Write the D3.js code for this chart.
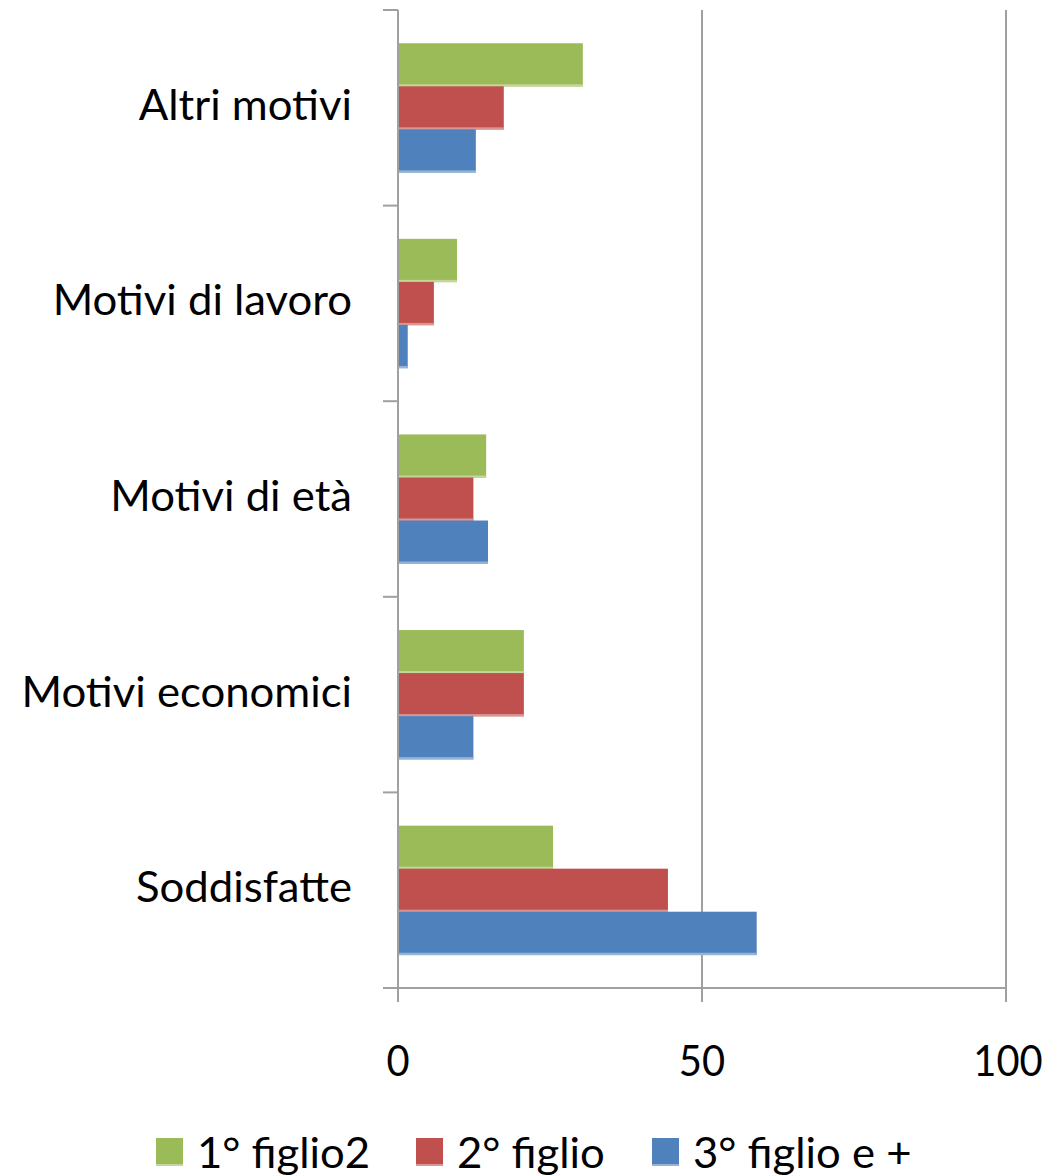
<!DOCTYPE html>
<html>
<head>
<meta charset="utf-8">
<script src="https://cdn.jsdelivr.net/npm/d3@7"></script>
<style>
  html, body { margin: 0; padding: 0; background: #fff; }
  svg { display: block; }
  text { font-family: Lato, "Open Sans", sans-serif; fill: #000; }
</style>
</head>
<body>
<svg id="chart" width="1054" height="1176"></svg>
<script>
// ---- data ----
const categories = ["Altri motivi", "Motivi di lavoro", "Motivi di età", "Motivi economici", "Soddisfatte"];
const seriesNames = ["1° figlio2", "2° figlio", "3° figlio e +"];
const seriesColors = ["#9BBB59", "#C0504D", "#4F81BD"];
const seriesEdge = ["#C3D69B", "#D99694", "#95B3D7"];
const firstChild = [30.4, 9.7, 14.5, 20.7, 25.5];
const secondChild = [17.4, 5.9, 12.4, 20.7, 44.4];
const thirdChild = [12.8, 1.6, 14.8, 12.4, 59.0];
const xTicks = [0, 50, 100];

const values = [firstChild, secondChild, thirdChild];

// ---- layout ----
const svg = d3.select("#chart");
const x = d3.scaleLinear().domain([0, 100]).range([398, 1006]);
const y0 = d3.scaleBand().domain(categories).range([10, 988]).padding(0);
const step = y0.bandwidth();
const y1 = d3.scaleBand().domain(seriesNames).range([step * 0.17, step * 0.83]).padding(0);
const axisColor = "#A0A0A0";
const labelScaleX = 1.04;
const tickScaleX = 0.95;

// gridlines
svg.append("g").selectAll("line").data(xTicks.filter(d => d > 0)).join("line")
  .attr("x1", d => x(d)).attr("x2", d => x(d))
  .attr("y1", 10).attr("y2", 988)
  .attr("stroke", axisColor).attr("stroke-width", 2);

// bars
const groups = svg.append("g").selectAll("g").data(categories).join("g")
  .attr("transform", c => `translate(0,${y0(c)})`);
groups.each(function(c, ci) {
  const g = d3.select(this);
  seriesNames.forEach((s, si) => {
    const v = values[si][ci];
    const yy = y1(s), h = y1.bandwidth();
    g.append("rect").attr("x", x(0)).attr("y", yy)
      .attr("width", x(v) - x(0)).attr("height", h)
      .attr("fill", seriesColors[si]);
    g.append("rect").attr("x", x(0)).attr("y", yy + h - 2)
      .attr("width", x(v) - x(0)).attr("height", 2.5)
      .attr("fill", seriesEdge[si]);
  });
});

// y axis line + ticks
svg.append("line").attr("x1", x(0)).attr("x2", x(0)).attr("y1", 10).attr("y2", 1002)
  .attr("stroke", axisColor).attr("stroke-width", 2);
const boundaries = categories.map(c => y0(c)).concat([y0(categories[categories.length - 1]) + step]);
svg.append("g").selectAll("line").data(boundaries).join("line")
  .attr("x1", 383).attr("x2", x(0)).attr("y1", d => d).attr("y2", d => d)
  .attr("stroke", axisColor).attr("stroke-width", 2);

// x axis line + ticks
svg.append("line").attr("x1", 383).attr("x2", x(100)).attr("y1", 988).attr("y2", 988)
  .attr("stroke", axisColor).attr("stroke-width", 2);
svg.append("g").selectAll("line").data(xTicks).join("line")
  .attr("x1", d => x(d)).attr("x2", d => x(d)).attr("y1", 988).attr("y2", 1002)
  .attr("stroke", axisColor).attr("stroke-width", 2);

// x tick labels
svg.append("g").selectAll("g").data(xTicks).join("g")
  .attr("transform", d => `translate(${x(d) + (d === 100 ? 2 : 0)},1076) scale(${tickScaleX},1)`)
  .append("text").attr("text-anchor", "middle").attr("font-size", 42).text(d => d);

// category labels
svg.append("g").selectAll("g").data(categories).join("g")
  .attr("transform", c => `translate(352,${y0(c) + step / 2 + 12}) scale(${labelScaleX},1)`)
  .append("text").attr("text-anchor", "end").attr("font-size", 42).text(c => c);

// legend
const legendX = [156, 416, 652];
const leg = svg.append("g").selectAll("g").data(seriesNames).join("g")
  .attr("transform", (d, i) => `translate(${legendX[i]},1138)`);
leg.append("rect").attr("width", 27).attr("height", 28).attr("fill", (d, i) => seriesColors[i]);
leg.append("rect").attr("y", 26).attr("width", 27).attr("height", 2).attr("fill", (d, i) => seriesEdge[i]);
leg.append("g").attr("transform", `translate(41,30) scale(${labelScaleX},1)`)
  .append("text").attr("font-size", 42).text(d => d);
</script>
</body>
</html>
